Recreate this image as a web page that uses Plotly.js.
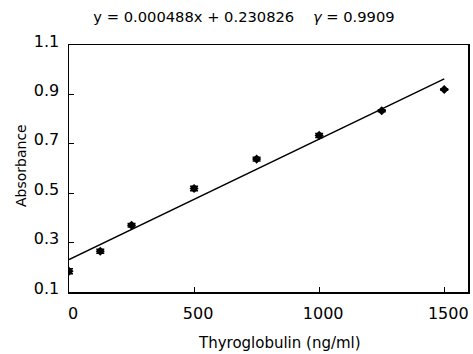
<!DOCTYPE html>
<html><head><meta charset="utf-8">
<script src="https://cdn.plot.ly/plotly-3.0.1.min.js"></script>
<style>html,body{margin:0;padding:0;background:#fff}#chart{width:473px;height:354px}</style>
</head><body><div id="chart"></div>
<script>
const concentration = [0, 125, 250, 500, 750, 1000, 1250, 1500];
const absorbance = [0.184, 0.265, 0.370, 0.519, 0.638, 0.734, 0.834, 0.920];
const errorSD = [0.010, 0.008, 0.007, 0.009, 0.008, 0.008, 0.004, 0.003];
const fitX = [0, 1500];
const fitY = [0.2308, 0.9628];
const xTicks = [0, 500, 1000, 1500];
const yTicks = [0.1, 0.3, 0.5, 0.7, 0.9, 1.1];
const titleText = 'y = 0.000488x + 0.230826    <i>γ</i> = 0.9909';
const xTitle = 'Thyroglobulin (ng/ml)';
const yTitle = 'Absorbance';

const font = 'DejaVu Sans, sans-serif';
const traces = [
  {x: fitX, y: fitY, mode: 'lines', line: {color: '#000', width: 1.5}, hoverinfo: 'skip'},
  {x: concentration, y: absorbance, mode: 'markers',
   marker: {symbol: 'diamond', size: 7, color: '#000'},
   error_y: {type: 'data', array: errorSD, visible: true, color: '#000', thickness: 1.5, width: 4}}
];
const axisCommon = {showgrid: false, zeroline: false, showline: true, mirror: true,
  linecolor: '#000', linewidth: 1.5, ticks: 'inside', ticklen: 5, tickcolor: '#000',
  tickfont: {family: font, size: 16, color: '#000'}};
const layout = {
  width: 473, height: 354, showlegend: false,
  paper_bgcolor: '#fff', plot_bgcolor: '#fff',
  margin: {l: 69, r: 5, t: 45, b: 62},
  title: {text: titleText, font: {family: font, size: 14.7, color: '#000'},
    x: 244 / 473, xanchor: 'center', xref: 'container', y: 1 - 17 / 354, yref: 'container', yanchor: 'middle'},
  xaxis: Object.assign({}, axisCommon, {range: [0, 1595], tickvals: xTicks, ticktext: xTicks.map(String),
    ticklabelshift: 4, ticklabelstandoff: 6}),
  yaxis: Object.assign({}, axisCommon, {range: [0.1, 1.1], tickvals: yTicks, ticktext: yTicks.map(v => v.toFixed(1)),
    ticklabelshift: -4, ticklabelstandoff: 5}),
  annotations: [
    {text: xTitle, xref: 'paper', yref: 'paper', x: (279 - 69) / 399, y: -(343 - 292) / 247,
     xanchor: 'center', yanchor: 'middle', showarrow: false, font: {family: font, size: 15, color: '#000'}},
    {text: yTitle, xref: 'paper', yref: 'paper', x: -(69 - 21) / 399, y: (292 - 166) / 247,
     xanchor: 'center', yanchor: 'middle', textangle: -90, showarrow: false, font: {family: font, size: 14, color: '#000'}}
  ]
};
Plotly.newPlot('chart', traces, layout, {displayModeBar: false, staticPlot: true});
</script></body></html>
